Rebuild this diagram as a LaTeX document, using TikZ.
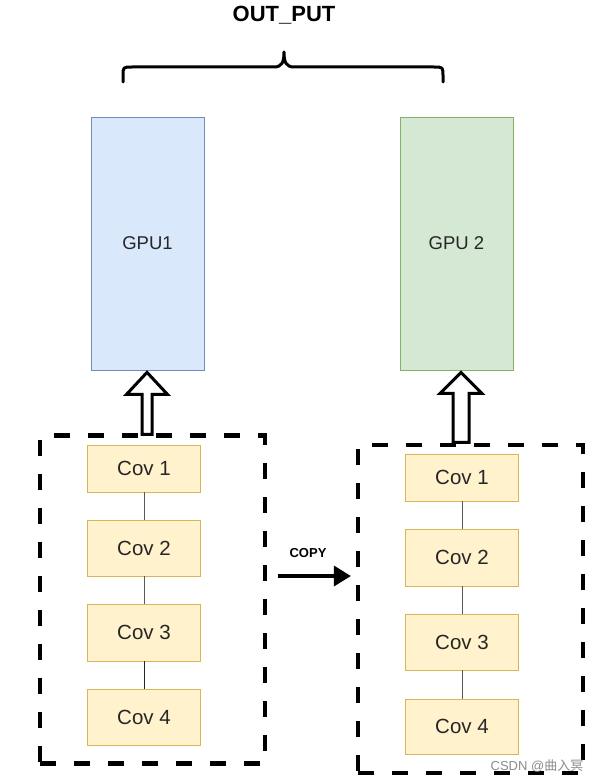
\documentclass[tikz,border=0pt]{standalone}
\usepackage{fontspec}
\setmainfont{Liberation Sans}
\newfontfamily\cjk{Noto Sans CJK SC}
\usetikzlibrary{arrows.meta,calc}
\definecolor{bluefill}{HTML}{DAE8FC}
\definecolor{blueline}{HTML}{6C8EBF}
\definecolor{greenfill}{HTML}{D5E8D4}
\definecolor{greenline}{HTML}{82B366}
\definecolor{covfill}{HTML}{FFF2CC}
\definecolor{covline}{HTML}{D6B656}
\tikzset{
  gpubox/.style={draw, line width=0.8pt, minimum width=113pt, minimum height=253pt, inner sep=0pt, font=\fontsize{18.5}{22}\selectfont, text=black!85},
  covbox/.style={draw=covline, fill=covfill, line width=0.8pt, minimum width=113pt, inner sep=0pt, font=\fontsize{20.5}{24}\selectfont, text=black!85},
  groupbox/.style={draw, line width=4.2pt, dash pattern=on 16pt off 18pt, minimum width=225pt, minimum height=328pt, inner sep=0pt},
  link/.style={draw=black!65, line width=1pt},
  hollow/.style={draw, line width=3pt, fill=white, line join=miter},
}
\begin{document}
\begin{tikzpicture}[x=1pt,y=-1pt]
\useasboundingbox[fill=white] (0,0) rectangle (605,784);

% title and brace
\node[font=\bfseries\fontsize{22}{26}\selectfont] (out) at (284,15) {OUT\_PUT};
\draw[line width=3pt, line cap=round, line join=round]
  (123,82) -- (123,76) .. controls (123,67) .. (132,67) -- (274,67)
  .. controls (282,67) and (284,62) .. (284,52)
  .. controls (284,62) and (286,67) .. (294,67) -- (434,67)
  .. controls (443,67) .. (443,76) -- (443,82);

% GPUs
\node[gpubox, draw=blueline, fill=bluefill] (gpu1) at (147.5,243.5) {GPU1};
\node[gpubox, draw=greenline, fill=greenfill] (gpu2) at (456.5,243.5) {GPU 2};

% dashed groups
\node[groupbox] (grpL) at (152.5,599.5) {};
\node[groupbox] (grpR) at (470.5,609) {};

% left cov boxes
\node[covbox, minimum height=47pt] (l1) at (144,468.5) {Cov 1};
\node[covbox, minimum height=56pt] (l2) at (144,548) {Cov 2};
\node[covbox, minimum height=57pt] (l3) at (144,632.5) {Cov 3};
\node[covbox, minimum height=56pt] (l4) at (144,717) {Cov 4};
\draw[link] (l1) -- (l2);
\draw[link] (l2) -- (l3);
\draw[link, draw=black!85] (l3) -- (l4);

% right cov boxes
\node[covbox, minimum height=47pt] (r1) at (462,477.5) {Cov 1};
\node[covbox, minimum height=57pt] (r2) at (462,557.5) {Cov 2};
\node[covbox, minimum height=56pt] (r3) at (462,642) {Cov 3};
\node[covbox, minimum height=55pt] (r4) at (462,726.5) {Cov 4};
\draw[link] (r1) -- (r2);
\draw[link] (r2) -- (r3);
\draw[link] (r3) -- (r4);

% hollow arrows from groups to GPUs
\draw[hollow, shift={(gpu1.south)}]
  (-0.5,2) -- (20,24) -- (4.5,24) -- (4.5,64) -- (-5.5,64) -- (-5.5,24) -- (-21,24) -- cycle;
\draw[hollow, shift={(gpu2.south)}]
  (4.5,2) -- (25.5,23) -- (12.5,23) -- (12.5,72) -- (-3.5,72) -- (-3.5,23) -- (-16.5,23) -- cycle;

% copy arrow
\coordinate (cpA) at ($(grpL.east)+(11,-23.5)$);
\coordinate (cpB) at ($(grpR.west)+(-5,-33)$);
\draw[line width=3.5pt, -{Triangle[length=17pt,width=20pt]}] (cpA) -- (cpB);
\node[font=\bfseries\fontsize{13}{15}\selectfont] (copy) at (308,553) {COPY};

% watermark
\node[text=black!45, font=\fontsize{13}{15}\selectfont, inner sep=0pt] (wm) at (537,766) {CSDN @{\cjk 曲入冥}};
\end{tikzpicture}
\end{document}
